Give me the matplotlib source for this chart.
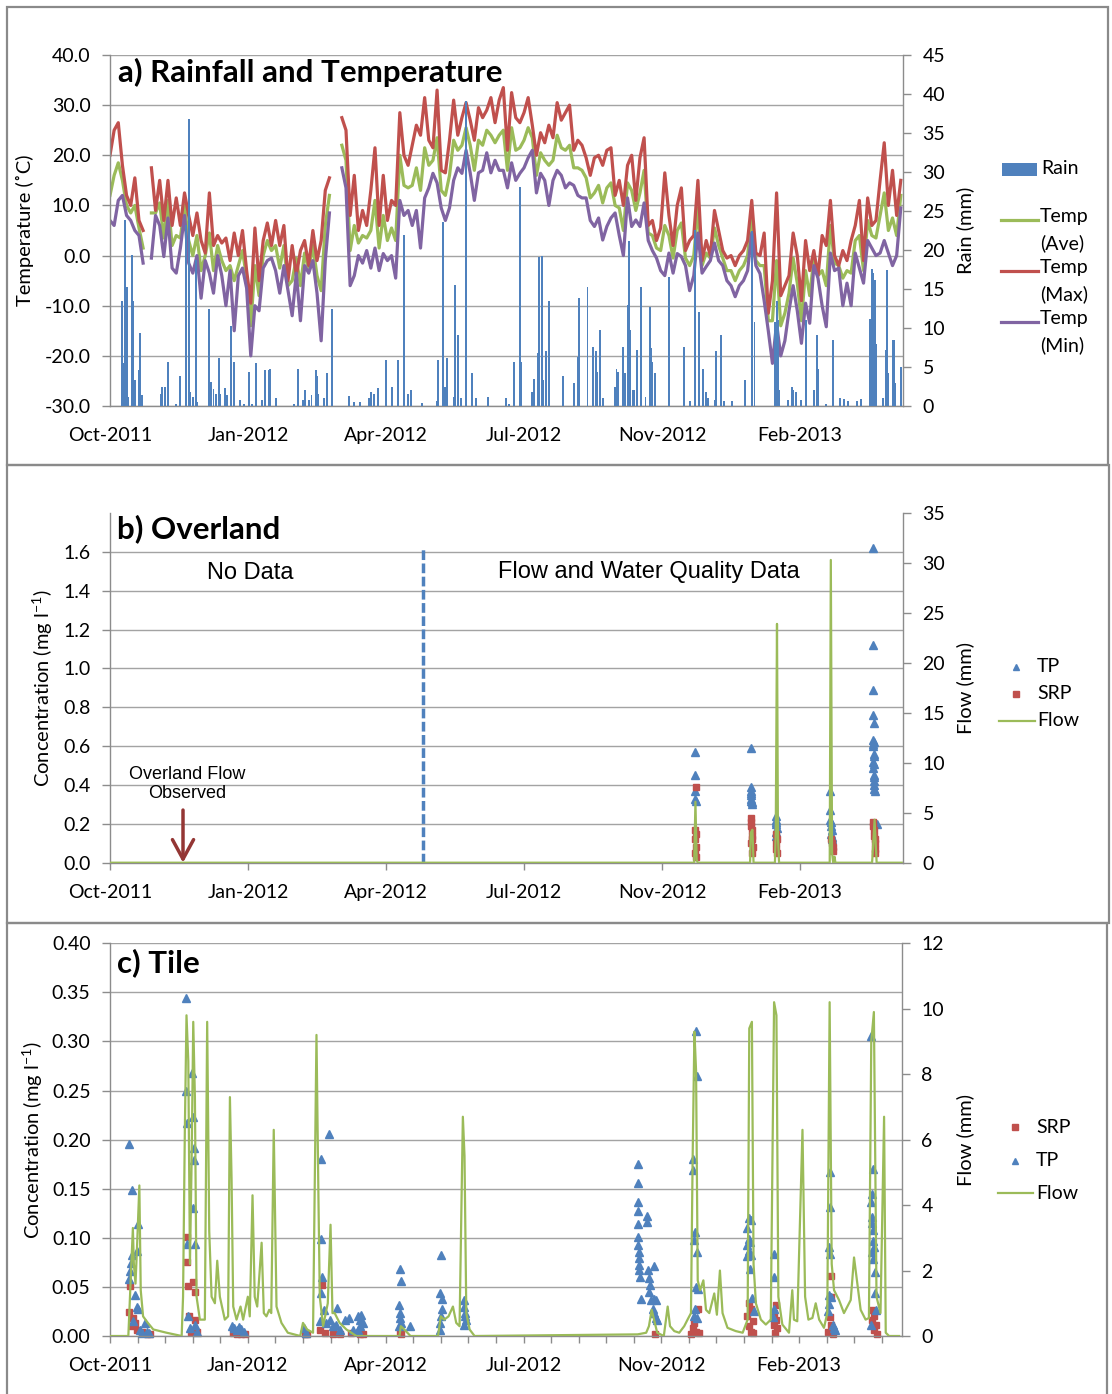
import numpy as np
import pandas as pd
import matplotlib
matplotlib.use('Agg')
import matplotlib.pyplot as plt
from matplotlib.lines import Line2D
from matplotlib.patches import Rectangle
from matplotlib.ticker import MultipleLocator, FuncFormatter, FormatStrFormatter

plt.rcParams['font.family'] = ['Lato', 'DejaVu Sans']
plt.rcParams['mathtext.fontset'] = 'custom'
plt.rcParams['mathtext.rm'] = 'Lato'
plt.rcParams['mathtext.default'] = 'regular'

START = pd.Timestamp('2011-10-01')
nan = np.nan

# ---- weather station, every third day from 1 Oct 2011 ----
temp_day = np.arange(0, 576, 3)
temp_max = [20, 25, 26.5, 18, 12, 10, 15.5, 7, 5, nan,
            17.5, 9, 15, 7, 15, 6, 11.5, 6, 12.5, 8,
            4, 8.5, 3, 0.5, 12.5, 2, 4, 2.5, 3.5, -1,
            4.5, 0, 5, -3, -9.5, 5.5, -5, 3, 6.5, 2,
            7, 2, 6, -5, 2, -4, 1, 3, -2, 5,
            -1, 3, 13, 15.5, nan, nan, 27.5, 25, 8, 16,
            5, 9, 6, 13, 21.5, 6, 16, 7, 11, 10,
            28.5, 20, 18, 22, 26, 24, 31.5, 23, 21.5, 33,
            17, 16.5, 23, 31, 24, 27.5, 30.5, 27, 23, 29.5,
            27.5, 29, 31.5, 26.5, 31, 33.5, 21, 32.5, 27.5, 26.5,
            28.5, 31.5, 26, 20, 24.5, 22.5, 26, 23.5, 30.5, 27,
            28.5, 30, 21, 23, 22, 19.5, 16, 19.5, 20, 18,
            21, 21.5, 12, 15, 10, 18, 20, 11, 19.5, 23.5,
            6, 7, 3, 5.5, 16.5, 8, 2, 10, 13.5, 1,
            3, 4, 15, -1, 3, 0, 9, 5, 1, -0.5,
            0, -2, 0, 1, 3, 11, 0.5, 0, 4.5, -11.5,
            -5, 12.5, -8, -6, -4, 4.5, 0, -9, 3, -3,
            1, -4, 4, 2, 11, 0, -2, 1, -1, 3,
            6, 11, -1, 11.5, 6, 7, 15, 22.5, 10, 17,
            8, 15]
temp_ave = [12, 16, 18.5, 15, 10, 8.5, 10, 5.5, 1.5, nan,
            8.5, 8.5, 10.5, 3.5, 11, 2, 4, 3.5, 10, 3,
            0, 4, -3, 0, 4.5, -3, 2, -1, -3, -2,
            -5, -2, 1, -4.5, -14, -2, -8, 0, 3, 1,
            2, -2.5, 2, -6, -5, -0.5, -6, 0.5, -3, 2,
            -4, -7, 6, 12, nan, nan, 22, 19, 1, 6,
            2.5, 4, 3.5, 5, 11, 1.5, 8, 3, 5.5, 3,
            20, 14, 13.5, 14, 17.5, 13, 21.5, 18, 19, 23.5,
            13, 12, 16, 23, 21, 22, 25.5, 22, 17, 23,
            22, 25, 24, 22.5, 24, 25, 17, 25.5, 21, 21.5,
            23, 25.5, 23.5, 16, 20.5, 19, 18, 19, 24, 21.5,
            21, 22, 17.5, 17.5, 17, 15.5, 11.5, 12.5, 14, 10.5,
            13.5, 14.5, 10, 9.5, 5, 14.5, 13, 9, 12.5, 17,
            4.5, 4, 1.5, 1, 6, 4, -0.5, 5, 6.5, -0.5,
            -2, 0, 9.5, -2, 0.5, -0.5, 5.5, 2, -0.5, -3,
            -3, -5, -3, -2, 0, 8, -1, -2, -2, -13,
            -13, -1, -14, -11.5, -7.5, -0.5, -5.5, -13, -3, -8,
            -0.5, -4, -3, -6, 6, -1.5, -2, -4.5, -3, -3.5,
            3, 4, -3, 7, 4, 3.5, 8, 12.5, 5, 7.5,
            4, 12]
temp_min = [7, 6, 11, 12, 8, 7, 5, 4, -1.5, nan,
            -0.5, 8, 6, -0.2, 7.5, -2.5, -3.5, 1.5, 8, -1.5,
            -3.5, 0, -8.5, -1, -3.5, -7.5, 0, -4, -10, -3,
            -15, -4, -2.5, -6.5, -20, -10, -11, -2.5, -1, -0.5,
            -3, -7.5, -2, -7, -12, -3.5, -13, -2, -3.5, -1,
            -7.5, -17, -1, 8.5, nan, nan, 17.5, 13.5, -6, -4,
            0, -1.5, 1, -2.5, 1.5, -3, 0.4, -1, 0, -4.5,
            11, 8, 9, 6, 9, 1.5, 11.5, 13.5, 16.4, 14.5,
            9.5, 7, 9.5, 15, 17.5, 16.4, 21, 16.5, 11, 16.5,
            17, 20.5, 16.5, 19, 17, 17, 13.5, 18.5, 15, 16.4,
            17.5, 19.5, 21, 12.5, 16.4, 15, 10, 15, 17, 16,
            13.5, 14.5, 14, 12, 11.5, 11.5, 7, 5.8, 7.5, 3.1,
            5.8, 7.5, 8.5, 4, 0, 11.5, 5.8, 7.1, 5.8, 10.5,
            3, 1, -0.5, -3, -4, 0.5, -3.5, 0.4, -0.2, -2,
            -7, -4, 4.5, -3.5, -2.2, -1, 2.5, -1, -2, -5,
            -6, -8.2, -6, -5, -3, 4.5, -2, -3.6, -9, -15,
            -21.5, -13.5, -20, -17, -11, -6, -11, -17.5, -9.5, -13.5,
            -2, -4.5, -10, -14.2, 0.5, -3, -2.5, -10, -5.5, -10,
            0.5, -2.5, -5.5, 3, 1.5, 0, 0.5, 3, 0.5, -2,
            0, 9.5]

# daily rain (day since 1 Oct 2011, mm)
rain = [(9, 13.4), (10, 5.5), (11, 23.8), (12, 15.3), (13, 1.2), (16, 19.4), (17, 13.4),
        (18, 3.3), (21, 4.6), (22, 9.3), (23, 1.4), (37, 1.6), (38, 2.5), (40, 2.5),
        (42, 5.7), (48, 0.3), (51, 3.8), (55, 23.2), (57, 36.8), (58, 1.8), (60, 1.2),
        (62, 18.7), (63, 0.5), (72, 12.5), (73, 3.1), (75, 2.2), (77, 1.6), (79, 6.1),
        (80, 1.6), (83, 2.3), (85, 1.4), (88, 10.2), (90, 5.7), (94, 0.8), (97, 0.3),
        (101, 4.4), (103, 0.3), (106, 5.5), (110, 0.8), (112, 4.6), (115, 4.6), (116, 4.8),
        (120, 1.0), (133, 0.3), (136, 4.8), (140, 0.8), (141, 2.1), (144, 0.8), (146, 1.4),
        (149, 4.6), (150, 3.8), (151, 1.6), (155, 1.0), (157, 4.2), (161, 12.5), (173, 1.3),
        (177, 0.5), (181, 0.5), (188, 1.0), (189, 1.8), (191, 1.6), (194, 2.3), (200, 5.9),
        (204, 2.5), (209, 5.9), (213, 21.9), (216, 1.6), (218, 2.1), (226, 0.4), (237, 0.6),
        (238, 5.9), (241, 23.6), (243, 2.5), (244, 6.1), (249, 1.2), (250, 15.5), (252, 9.1),
        (254, 1.0), (258, 39.1), (262, 4.2), (265, 1.0), (274, 1.2), (287, 1.0), (289, 0.3),
        (293, 5.7), (297, 28.1), (298, 5.7), (306, 1.8), (307, 3.5), (310, 6.8), (311, 19.1),
        (313, 19.2), (314, 3.3), (316, 7.0), (318, 13.4), (328, 3.8), (336, 2.9), (339, 6.3),
        (340, 13.8), (346, 15.3), (350, 7.6), (352, 7.0), (353, 4.4), (355, 9.7), (357, 1.0),
        (366, 2.5), (367, 4.8), (368, 4.4), (372, 7.6), (373, 4.2), (375, 12.9), (376, 21.1),
        (377, 9.7), (379, 2.1), (380, 2.1), (382, 7.2), (385, 15.3), (388, 1.2), (391, 12.7),
        (392, 7.4), (393, 5.7), (395, 4.2), (405, 16.6), (416, 7.6), (420, 0.6), (424, 22.6),
        (427, 12.1), (430, 4.8), (432, 1.8), (433, 1.0), (438, 0.8), (439, 7.0), (443, 9.1),
        (445, 0.6), (451, 0.6), (460, 3.3), (465, 22.4), (467, 10.8), (482, 10.8), (483, 13.4),
        (484, 11.0), (485, 2.1), (491, 0.8), (494, 2.5), (495, 2.1), (497, 1.8), (501, 0.8),
        (504, 11.0), (510, 2.1), (512, 9.1), (513, 4.8), (519, 0.3), (524, 8.5), (529, 1.0),
        (532, 0.9), (535, 0.6), (541, 0.6), (544, 0.9), (551, 11.2), (552, 17.6), (553, 17.0),
        (554, 16.2), (555, 8.0), (560, 1.0), (562, 7.2), (563, 17.4), (564, 4.2), (567, 8.5),
        (568, 8.5), (569, 2.9), (573, 5.0)]

# ---- overland plot (day, value) ----
overland_flow = [(0, 0), (423.3, 0), (424.2, 6.1), (425.1, 0.3), (425.8, 0),
                 (463.8, 0), (464.3, 3.0), (465.5, 3.3), (466.3, 0),
                 (481.8, 0), (482.4, 3.0), (483.3, 23.9), (484.0, 2.5), (484.8, 0),
                 (521.5, 0), (522.3, 30.3), (523.2, 1.0), (524.0, 0), (525.0, 0.6), (525.6, 0),
                 (552.2, 0), (552.8, 1.3), (554.0, 4.3), (555.5, 0), (573.7, 0)]
overland_tp = [(424.2, 0.57), (424.2, 0.45), (424.0, 0.37), (424.0, 0.33), (424.3, 0.32),
               (464.2, 0.59), (464.2, 0.39), (464.4, 0.37), (464.6, 0.36), (464.4, 0.35),
               (464.8, 0.33), (464.4, 0.32), (465.0, 0.31), (465.2, 0.30),
               (482.4, 0.24), (482.6, 0.22), (482.8, 0.21), (482.6, 0.20), (483.0, 0.18),
               (482.4, 0.16), (482.8, 0.14),
               (521.8, 0.37), (522.0, 0.27), (522.0, 0.22), (522.4, 0.21), (522.2, 0.19),
               (523.0, 0.17), (522.6, 0.15), (523.2, 0.13), (523.4, 0.12),
               (553.0, 1.62), (553.0, 1.12), (553.0, 0.89), (553.2, 0.76), (553.4, 0.72),
               (553.2, 0.63), (553.4, 0.62), (553.0, 0.61), (553.2, 0.60), (553.4, 0.56),
               (553.4, 0.55), (553.2, 0.52), (553.4, 0.51), (553.2, 0.49), (553.6, 0.45),
               (553.4, 0.44), (553.6, 0.42), (553.8, 0.40), (553.6, 0.38), (554.0, 0.37),
               (555.6, 0.20)]
overland_srp = [(424.5, 0.39), (424.0, 0.17), (424.3, 0.15), (424.0, 0.12), (424.4, 0.08),
                (424.2, 0.05), (424.5, 0.03),
                (464.2, 0.23), (464.4, 0.21), (464.6, 0.19), (465.2, 0.17), (465.0, 0.14),
                (465.4, 0.12), (464.8, 0.10), (465.6, 0.08), (465.2, 0.05),
                (482.4, 0.15), (483.0, 0.12), (482.6, 0.10), (482.8, 0.07), (483.0, 0.05),
                (522.4, 0.12), (523.0, 0.10), (523.6, 0.08), (524.0, 0.06),
                (553.0, 0.21), (553.2, 0.19), (553.4, 0.17), (553.8, 0.14), (554.2, 0.12),
                (554.4, 0.10), (554.6, 0.07), (554.2, 0.05)]

# ---- tile drain (day, value) ----
tile_flow = [(0, 0), (13.3, 0), (14.5, 1.2), (16.6, 3.3), (17.3, 2.2), (18.5, 1.6), (19.5, 2.6),
             (21.3, 4.6), (22.3, 1.4), (24, 0.6), (27.5, 0.4), (31.4, 0.2), (41, 0.1), (52, 0),
             (53, 1.2), (54.3, 6.3), (55.5, 9.8), (56.8, 8.4), (58, 2.2), (59.2, 5.3), (60.4, 9.6),
             (61.6, 7.3), (62.8, 1.2), (65.2, 0.5), (68.8, 0.5), (70.5, 9.6), (72, 3.2),
             (73.7, 1.2), (76.1, 1.0), (77.8, 2.3), (79.7, 1.2), (83.3, 0.5), (85.7, 0.6),
             (87, 7.3), (88.2, 4.8), (89.4, 0.9), (91.8, 0.5), (94.7, 0.9), (96.6, 0.5),
             (100, 1.2), (101.4, 0.6), (103.4, 4.3), (105, 1.2), (106.8, 0.9), (110, 2.85),
             (111.6, 0.7), (113.5, 0.6), (115.5, 0.8), (117, 0.7), (118.8, 6.3), (120.8, 0.9),
             (124.4, 0.4), (129, 0.1), (138, 0), (140, 0.4), (143, 0.2), (147.3, 0.1),
             (149.8, 9.2), (151.2, 4.3), (152.2, 1.2), (154.6, 0.3), (158, 1.0), (160, 3.4),
             (161.4, 0.7), (163, 0.7), (166.6, 0.4), (171.5, 0.2), (178.7, 0), (210, 0),
             (211, 0.3), (213.5, 0.2), (218, 0), (238, 0), (240, 0.6), (242.5, 0.5),
             (245.6, 0.6), (248.8, 0.9), (251.2, 0.4), (253.6, 0.3), (256, 6.7), (257.2, 5.5),
             (258.5, 0.7), (260.9, 0.2), (264.5, 0), (382.8, 0.05), (389, 0.1), (391, 0.3),
             (393, 0.8), (394.7, 0.5), (397, 0.1), (401.8, 0), (404.6, 0.9), (406.3, 0.3),
             (409.4, 0.15), (413, 0.1), (416.6, 0.3), (419, 0.5), (421.5, 0.7), (422.7, 5.4),
             (424, 9.3), (425.2, 8.1), (426.4, 1.7), (428.1, 1.4), (430.5, 1.7), (432.4, 0.8),
             (434.8, 0.7), (438.4, 1.3), (440.3, 0.65), (442.5, 2.0), (444.4, 0.7), (448, 0.25),
             (454, 0.15), (459, 0.1), (462.6, 0.5), (463.8, 9.4), (465.7, 9.6), (466.9, 2.2),
             (468.6, 1.0), (472.2, 0.5), (475.8, 0.35), (479.4, 0.5), (481.8, 10.2),
             (483.5, 9.8), (484.9, 1.2), (487.8, 0.35), (492.6, 0.1), (495, 1.4), (496.2, 0.5),
             (498.6, 0.45), (502.4, 6.3), (504.3, 1.2), (506.7, 0.5), (509.6, 0.55), (512, 1.0),
             (514.5, 0.5), (518, 0.25), (520.4, 0.7), (522.1, 10.2), (523.6, 2.2), (525.3, 1.4),
             (528.9, 1.1), (532.5, 0.7), (537.4, 1.1), (539.8, 2.4), (542.2, 1.6), (544.6, 0.8),
             (548.2, 0.5), (550.6, 0.55), (552.3, 9.0), (554.2, 9.9), (556.1, 1.2), (559, 0.7),
             (561.6, 6.7), (562.8, 0.1), (565.2, 0), (572.5, 0)]
tile_tp = [(14, 0.196), (15.7, 0.149), (20.5, 0.114), (19.3, 0.087), (15.7, 0.082), (15, 0.074),
           (14.5, 0.066), (14, 0.058), (18.1, 0.042), (19.3, 0.030), (20.5, 0.027), (16.9, 0.015),
           (21.7, 0.006), (25.4, 0.013), (26.6, 0.004), (22.9, 0.003), (28.5, 0.003),
           (55.1, 0.344), (59.2, 0.268), (54.8, 0.250), (55.6, 0.217), (59.9, 0.223),
           (60.9, 0.192), (61.1, 0.179), (59.9, 0.130), (56, 0.094), (61.6, 0.094),
           (56.8, 0.020), (61.6, 0.011), (58, 0.008), (62.8, 0.004),
           (88.2, 0.010), (89.9, 0.008), (91.8, 0.006), (93.7, 0.009), (95.4, 0.007), (97.1, 0.004),
           (140.6, 0.008), (142, 0.003),
           (159, 0.206), (153.4, 0.180), (153.4, 0.099), (154.1, 0.060), (153.4, 0.044),
           (155.1, 0.026), (164.7, 0.029), (152.2, 0.015), (157, 0.013), (159.4, 0.016),
           (161.8, 0.010), (164.3, 0.011), (166.7, 0.006), (170.3, 0.016), (173.4, 0.018),
           (176.3, 0.006), (180, 0.020), (181.2, 0.016), (182.4, 0.021), (183.6, 0.013),
           (181.2, 0.010), (180, 0.006),
           (210.1, 0.068), (211.4, 0.056), (209.7, 0.032), (210.6, 0.023), (210.1, 0.018),
           (210.9, 0.013), (209.7, 0.010), (217.9, 0.010),
           (240.3, 0.082), (239.1, 0.044), (241.1, 0.038), (241.1, 0.027), (240.3, 0.020),
           (239.6, 0.013), (239.1, 0.006),
           (256.5, 0.037), (256.8, 0.030), (257.2, 0.023), (257.2, 0.020), (258, 0.016),
           (256.5, 0.011),
           (383.1, 0.175), (383.1, 0.156), (383.1, 0.137), (383.1, 0.127), (389.4, 0.122),
           (389.6, 0.116), (383.1, 0.114), (383.1, 0.101), (383.1, 0.093), (383.6, 0.086),
           (384.1, 0.079), (383.6, 0.072), (384.1, 0.067), (384.5, 0.060), (390.1, 0.067),
           (394.9, 0.071), (391.3, 0.059), (391.8, 0.052), (390.8, 0.045), (385.3, 0.038),
           (392.5, 0.037), (394.9, 0.038), (396.1, 0.037), (393.7, 0.028), (394.9, 0.023),
           (396.1, 0.018), (396.6, 0.016),
           (425.1, 0.311), (425.6, 0.265), (422.7, 0.180), (422.7, 0.169), (424.2, 0.106),
           (423.9, 0.098), (425.6, 0.086), (425.1, 0.050), (426.3, 0.048), (424.6, 0.028),
           (423.9, 0.020), (425.6, 0.018),
           (463.8, 0.120), (465, 0.118), (462.5, 0.110), (463.8, 0.099), (464.3, 0.096),
           (462.5, 0.093), (463.8, 0.087), (465, 0.082), (462.5, 0.081), (464.3, 0.068),
           (465.7, 0.039), (467.4, 0.025),
           (481.9, 0.084), (481.9, 0.060), (481.4, 0.028), (481.2, 0.019),
           (522.2, 0.167), (522.2, 0.131), (521.7, 0.091), (522.2, 0.084), (523.4, 0.040),
           (521.7, 0.042), (521.7, 0.033), (521.2, 0.025), (524.2, 0.011), (525.4, 0.008),
           (526.1, 0.006),
           (551.9, 0.306), (553.9, 0.170), (553.1, 0.145), (552.2, 0.137), (553.1, 0.121),
           (552.7, 0.115), (553.9, 0.108), (553.6, 0.097), (554.3, 0.091), (553.1, 0.086),
           (553.9, 0.078), (554.8, 0.065), (554.8, 0.044), (555.6, 0.026), (552.2, 0.011)]
tile_srp = [(14.5, 0.051), (14, 0.024), (16.9, 0.018), (18.1, 0.013), (15.7, 0.010),
            (19.8, 0.006), (22.9, 0.004), (26.6, 0.002), (29, 0.002),
            (55.6, 0.101), (55.6, 0.075), (56.3, 0.051), (59.9, 0.055), (61.6, 0.045),
            (57.5, 0.020), (61.6, 0.016), (58.5, 0.004), (62.8, 0.004),
            (89.4, 0.003), (91.8, 0.002), (95.4, 0.002), (97.8, 0.002),
            (141.3, 0.002), (143, 0.002),
            (154.1, 0.052), (152.2, 0.006), (155.8, 0.003), (161.8, 0.002), (166.7, 0.002),
            (175.1, 0.003), (181.2, 0.002), (183.6, 0.002),
            (210.1, 0.004), (211.4, 0.002),
            (395.7, 0.002),
            (426.3, 0.027), (423.9, 0.013), (422.7, 0.008), (425.1, 0.004), (427.5, 0.003),
            (421.5, 0.002),
            (463.8, 0.034), (465, 0.027), (462.5, 0.020), (466.2, 0.015), (463.8, 0.010),
            (465, 0.004), (466.7, 0.003),
            (483.1, 0.032), (481.9, 0.023), (483.1, 0.016), (481.4, 0.011), (483.6, 0.008),
            (482.6, 0.003),
            (523.4, 0.061), (523.4, 0.040), (522.2, 0.019), (522.9, 0.011), (521.2, 0.004),
            (524.2, 0.002),
            (553.1, 0.026), (554.3, 0.020), (553.1, 0.016), (555.6, 0.011), (554.3, 0.006),
            (556.8, 0.002)]

# first day of sampled flow and water quality on the overland plot
overland_start_day = 226.6
overland_obs_day = 52.9

BLUE = '#4F81BD'
RED = '#C0504D'
GREEN = '#9BBB59'
PURPLE = '#8064A2'
DARKRED = '#943634'
GRID = '#a3a3a3'
AXIS = '#8c8c8c'

W, H = 1112, 1394
XMAX = 574.6
TICK_FS = 14
LEGEND_FS = 14


def px_rect(left, top, right, bottom):
    return [left / W, 1 - bottom / H, (right - left) / W, (bottom - top) / H]


def fx(x):
    return x / W


def fy(y):
    return 1 - y / H


def date_label(d, pos):
    return (START + pd.Timedelta(days=float(d))).strftime('%b-%Y')


def unzip(pairs):
    a = np.array(pairs, dtype=float)
    return a[:, 0], a[:, 1]


def style_axes(ax, ax2, xtick_len, minor=False):
    ax.set_xlim(0, XMAX)
    ax.xaxis.set_major_locator(MultipleLocator(100))
    ax.xaxis.set_major_formatter(FuncFormatter(date_label))
    if minor:
        ax.xaxis.set_minor_locator(MultipleLocator(20))
        ax.tick_params(axis='x', which='minor', length=xtick_len, width=1, color=AXIS)
    ax.tick_params(axis='x', which='major', length=xtick_len, width=1, color=AXIS,
                   labelsize=TICK_FS, pad=15 - xtick_len)
    ax.tick_params(axis='y', length=6, width=1, color=AXIS, labelsize=TICK_FS, pad=8)
    ax2.tick_params(axis='y', length=6, width=1, color=AXIS, labelsize=TICK_FS, pad=8)
    ax.grid(axis='y', color=GRID, lw=1.0)
    ax.set_axisbelow(True)
    for a in (ax, ax2):
        a.spines['top'].set_visible(False)
        for s in a.spines.values():
            s.set_color(AXIS)
            s.set_linewidth(1.0)
    ax.spines['right'].set_visible(False)
    ax2.spines['left'].set_visible(False)
    ax2.spines['bottom'].set_visible(False)


fig = plt.figure(figsize=(W / 100, H / 100), dpi=100)

# chart frames
for l, t, r, b in [(7, 7, 1108, 465), (7, 465, 1109, 923), (7, 923, 1107, 1400)]:
    fig.add_artist(Rectangle((fx(l), fy(b)), (r - l) / W, (b - t) / H,
                             transform=fig.transFigure, fill=False, ec='#8a8a8a', lw=1.6))

# ---------------- a) rainfall and temperature ----------------
ax_a = fig.add_axes(px_rect(110, 55, 903, 406))
ax_a2 = ax_a.twinx()
ax_a.plot(temp_day, temp_ave, color=GREEN, lw=2.3)
ax_a.plot(temp_day, temp_max, color=RED, lw=2.3)
ax_a.plot(temp_day, temp_min, color=PURPLE, lw=2.3)
rd, rmm = unzip(rain)
ax_a2.bar(rd, rmm, width=1.4, color=BLUE, linewidth=0)
ax_a.set_ylim(-30, 40)
ax_a.yaxis.set_major_locator(MultipleLocator(10))
ax_a.yaxis.set_major_formatter(FormatStrFormatter('%.1f'))
ax_a2.set_ylim(0, 45)
ax_a2.yaxis.set_major_locator(MultipleLocator(5))
style_axes(ax_a, ax_a2, 0)

fig.text(fx(118), fy(82), 'a) Rainfall and Temperature', fontsize=22.5, fontweight='bold')
fig.text(fx(25), fy(230), 'Temperature (˚C)', rotation=90, ha='center', va='center',
         fontsize=14.5)
fig.text(fx(965), fy(230), 'Rain (mm)', rotation=90, ha='center', va='center', fontsize=14.5)

fig.add_artist(Rectangle((fx(1002), fy(176)), 35 / W, 13 / H, transform=fig.transFigure,
                         color=BLUE, lw=0))
fig.text(fx(1041), fy(169), 'Rain', va='center', fontsize=LEGEND_FS)
for y, c, lab in [(220, GREEN, 'Temp\n(Ave)'), (271, RED, 'Temp\n(Max)'), (322, PURPLE, 'Temp\n(Min)')]:
    fig.add_artist(Line2D([fx(1001), fx(1038)], [fy(y), fy(y)], transform=fig.transFigure,
                          color=c, lw=2.3))
    fig.text(fx(1040), fy(y - 12), lab, va='top', fontsize=LEGEND_FS, linespacing=1.6)

# ---------------- b) overland ----------------
ax_b = fig.add_axes(px_rect(110, 513, 903, 862.7))
ax_b2 = ax_b.twinx()
d, v = unzip(overland_tp)
ax_b.plot(d, v, ls='none', marker='^', ms=5.5, color=BLUE, mec=BLUE, clip_on=False)
d, v = unzip(overland_srp)
ax_b.plot(d, v, ls='none', marker='s', ms=4.2, color=RED, mec=RED, clip_on=False)
d, v = unzip(overland_flow)
ax_b2.plot(d, v, color=GREEN, lw=1.6)
ax_b.plot([overland_start_day, overland_start_day], [0, 1.617], color=BLUE, lw=2.5,
          ls=(0, (2.8, 1.0)))
ax_b.set_ylim(0, 1.8)
ax_b.set_yticks(np.arange(0, 1.61, 0.2))
ax_b.yaxis.set_major_formatter(FormatStrFormatter('%.1f'))
ax_b2.set_ylim(0, 35)
ax_b2.yaxis.set_major_locator(MultipleLocator(5))
style_axes(ax_b, ax_b2, 5)

ax_b.text(101.4, 1.458, 'No Data', ha='center', va='baseline', fontsize=17,
          family='Liberation Sans')
ax_b.text(390.6, 1.468, 'Flow and Water Quality Data', ha='center', va='baseline', fontsize=17,
          family='Liberation Sans')
ax_b.text(55.8, 0.497, 'Overland Flow\nObserved', ha='center', va='top', fontsize=13,
          family='Liberation Sans', linespacing=1.15)
ax_b.annotate('', xy=(overland_obs_day, 0.0), xytext=(overland_obs_day, 0.271),
              arrowprops=dict(arrowstyle='->,head_length=0.7,head_width=0.38', color=DARKRED,
                              lw=2.5, shrinkA=0, shrinkB=0, mutation_scale=20))

fig.text(fx(117), fy(538), 'b) Overland', fontsize=22.5, fontweight='bold')
fig.text(fx(43), fy(688), 'Concentration (mg l$^{-1}$)', rotation=90, ha='center',
         va='center', fontsize=14.5)
fig.text(fx(965), fy(688), 'Flow (mm)', rotation=90, ha='center', va='center', fontsize=14.5)

fig.add_artist(Line2D([fx(1016)], [fy(666.7)], transform=fig.transFigure, ls='none',
                      marker='^', ms=5, color=BLUE))
fig.text(fx(1037), fy(666.7), 'TP', va='center', fontsize=LEGEND_FS)
fig.add_artist(Line2D([fx(1016)], [fy(694)], transform=fig.transFigure, ls='none',
                      marker='s', ms=4, color=RED))
fig.text(fx(1037), fy(694), 'SRP', va='center', fontsize=LEGEND_FS)
fig.add_artist(Line2D([fx(999), fx(1035)], [fy(720.7), fy(720.7)], transform=fig.transFigure,
                      color=GREEN, lw=1.6))
fig.text(fx(1037), fy(720.7), 'Flow', va='center', fontsize=LEGEND_FS)

# ---------------- c) tile ----------------
ax_c = fig.add_axes(px_rect(110, 943.3, 902, 1336))
ax_c2 = ax_c.twinx()
d, v = unzip(tile_srp)
ax_c.plot(d, v, ls='none', marker='s', ms=4.8, color=RED, mec=RED, clip_on=False)
d, v = unzip(tile_tp)
ax_c.plot(d, v, ls='none', marker='^', ms=5.5, color=BLUE, mec=BLUE, clip_on=False)
d, v = unzip(tile_flow)
ax_c2.plot(d, v, color=GREEN, lw=1.6)
ax_c.set_ylim(0, 0.40)
ax_c.yaxis.set_major_locator(MultipleLocator(0.05))
ax_c.yaxis.set_major_formatter(FormatStrFormatter('%.2f'))
ax_c2.set_ylim(0, 12)
ax_c2.yaxis.set_major_locator(MultipleLocator(2))
style_axes(ax_c, ax_c2, 5, minor=True)

fig.text(fx(117), fy(972), 'c) Tile', fontsize=22.5, fontweight='bold')
fig.text(fx(33), fy(1140), 'Concentration (mg l$^{-1}$)', rotation=90, ha='center',
         va='center', fontsize=14.5)
fig.text(fx(965), fy(1140), 'Flow (mm)', rotation=90, ha='center', va='center', fontsize=14.5)

fig.add_artist(Line2D([fx(1015)], [fy(1127.3)], transform=fig.transFigure, ls='none',
                      marker='s', ms=4, color=RED))
fig.text(fx(1036), fy(1127.3), 'SRP', va='center', fontsize=LEGEND_FS)
fig.add_artist(Line2D([fx(1015)], [fy(1160.7)], transform=fig.transFigure, ls='none',
                      marker='^', ms=5, color=BLUE))
fig.text(fx(1036), fy(1160.7), 'TP', va='center', fontsize=LEGEND_FS)
fig.add_artist(Line2D([fx(998), fx(1033)], [fy(1193.3), fy(1193.3)], transform=fig.transFigure,
                      color=GREEN, lw=1.6))
fig.text(fx(1036), fy(1193.3), 'Flow', va='center', fontsize=LEGEND_FS)

fig.savefig('out.png', dpi=100)
